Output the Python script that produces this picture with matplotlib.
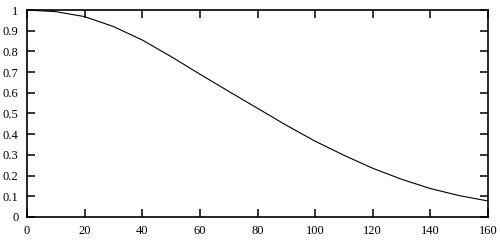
import matplotlib
matplotlib.use('Agg')
import matplotlib.pyplot as plt

# 读取的曲线数据
x_vals = [0, 10, 20, 30, 40, 50, 60, 70, 80, 90, 100, 110, 120, 130, 140, 150, 160]
y_vals = [1.0, 0.992, 0.968, 0.92, 0.855, 0.775, 0.69, 0.607, 0.525, 0.443, 0.366,
          0.298, 0.235, 0.182, 0.137, 0.103, 0.077]

x_ticks = [0, 20, 40, 60, 80, 100, 120, 140, 160]
y_ticks = [0, 0.1, 0.2, 0.3, 0.4, 0.5, 0.6, 0.7, 0.8, 0.9, 1]
y_labels = ['0', '0.1', '0.2', '0.3', '0.4', '0.5', '0.6', '0.7', '0.8', '0.9', '1']

plt.rcParams['font.family'] = ['Liberation Serif', 'DejaVu Serif']

fig = plt.figure(figsize=(5, 2.44), dpi=100)
ax = fig.add_axes([0.054, 0.111, 0.922, 0.848])
ax.plot(x_vals, y_vals, color='black', linewidth=0.8)

ax.set_xlim(0, 160)
ax.set_ylim(0, 1)
ax.set_xticks(x_ticks)
ax.set_yticks(y_ticks)
ax.set_yticklabels(y_labels)
ax.tick_params(direction='in', length=6, width=1.1, top=True, right=True,
               labelsize=9, pad=6)
for s in ax.spines.values():
    s.set_linewidth(1.2)

plt.savefig('out.png', dpi=100)
